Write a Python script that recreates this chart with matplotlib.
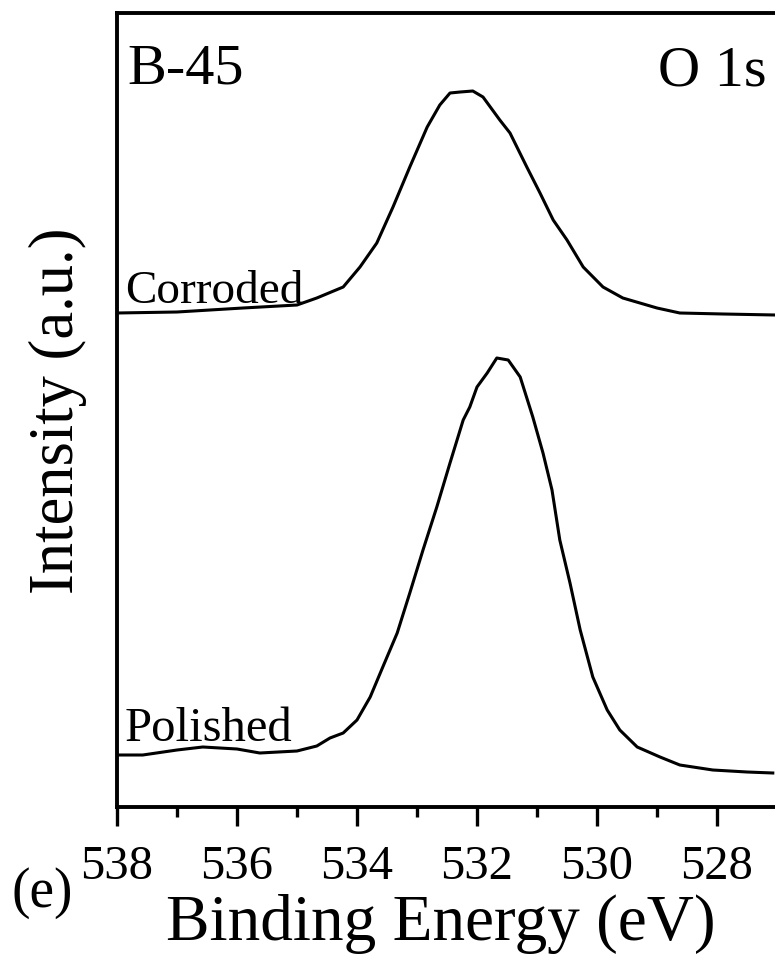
import matplotlib
matplotlib.use("Agg")
import matplotlib.pyplot as plt

plt.rcParams["font.family"] = ["Liberation Serif", "DejaVu Serif"]

# O 1s spectra, sample B-45 (binding energy in eV, intensity in a.u., offset stacked)
corroded_energy = [538.00, 537.00, 535.90, 535.00, 534.67, 534.23, 533.95, 533.67,
                   533.40, 533.12, 532.83, 532.62, 532.45, 532.28, 532.07, 531.90,
                   531.62, 531.45, 531.17, 530.95, 530.73, 530.50, 530.23, 529.90,
                   529.57, 529.00, 528.62, 527.90, 527.03]
corroded_intensity = [494, 495, 499, 502, 509, 520, 540, 564,
                      600, 640, 680, 702, 714, 715, 716, 710,
                      687, 674, 640, 614, 587, 567, 540, 520,
                      509, 499, 494, 493, 492]

polished_energy = [538.00, 537.57, 537.00, 536.57, 536.00, 535.62, 535.00, 534.67,
                   534.45, 534.23, 534.00, 533.78, 533.57, 533.33, 533.12, 532.90,
                   532.67, 532.45, 532.23, 532.12, 532.00, 531.83, 531.67, 531.48,
                   531.28, 531.07, 530.90, 530.75, 530.62, 530.45, 530.28, 530.07,
                   529.83, 529.62, 529.33, 528.95, 528.62, 528.07, 527.50, 527.07]
polished_intensity = [52, 52, 57, 60, 58, 54, 56, 61,
                      69, 74, 87, 110, 140, 174, 214, 257,
                      300, 344, 387, 400, 420, 434, 449, 447,
                      430, 390, 354, 317, 267, 224, 177, 130,
                      97, 77, 60, 50, 42, 37, 35, 34]

major_ticks = [538, 536, 534, 532, 530, 528]
minor_ticks = [537, 535, 533, 531, 529, 527]

fig = plt.figure(figsize=(7.75, 9.55), dpi=100)
# axis runs to 526 eV; the right part falls outside the figure
ax = fig.add_axes([117 / 775, 148 / 955, 720 / 775, 794 / 955])

ax.plot(corroded_energy, corroded_intensity, color="black", lw=2.2)
ax.plot(polished_energy, polished_intensity, color="black", lw=2.2)

ax.set_xlim(538, 526)
ax.set_ylim(0, 794)

for side in ax.spines.values():
    side.set_linewidth(2.8)

ax.set_xticks(major_ticks)
ax.set_xticks(minor_ticks, minor=True)
ax.tick_params(axis="x", which="major", direction="out", length=14, width=2.4,
               labelsize=35, pad=13)
ax.tick_params(axis="x", which="minor", direction="out", length=7, width=2.4)
ax.set_yticks([])

ax.text((127 - 117) / 720, 1 - 70 / 794, "B-45", transform=ax.transAxes,
        fontsize=42, va="baseline", ha="left")
ax.text((767 - 117) / 720, 1 - 72 / 794, "O 1s", transform=ax.transAxes,
        fontsize=42, va="baseline", ha="right")
ax.text(8 / 720, 1 - 290 / 794, "Corroded", transform=ax.transAxes,
        fontsize=34, va="baseline", ha="left")
ax.text(8 / 720, 1 - 728 / 794, "Polished", transform=ax.transAxes,
        fontsize=35, va="baseline", ha="left")

fig.text(441 / 775, 1 - 940 / 955, "Binding Energy (eV)", fontsize=47,
         ha="center", va="baseline")
fig.text(58 / 775, 1 - 411 / 955, "Intensity (a.u.)", fontsize=45,
         rotation=90, ha="center", va="center")
fig.text(42 / 775, 1 - 893 / 955, "(e)", fontsize=40, ha="center", va="center")

fig.savefig("out.png", dpi=100)
